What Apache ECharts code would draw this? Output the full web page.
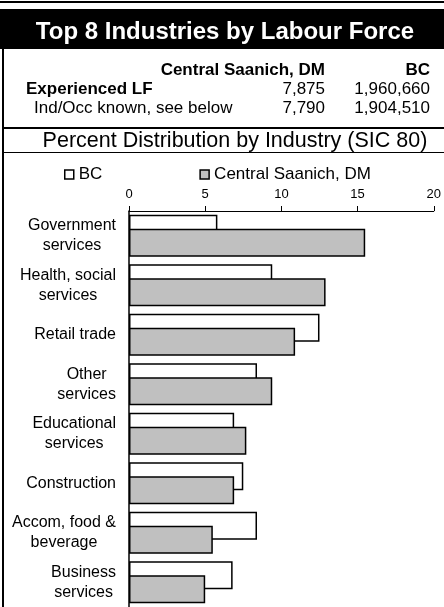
<!DOCTYPE html>
<html>
<head>
<meta charset="utf-8">
<script src="https://cdn.jsdelivr.net/npm/echarts@6/dist/echarts.min.js"></script>
<style>
  html, body { margin: 0; padding: 0; background: #fff; }
  #chart { width: 444px; height: 607px; }
</style>
</head>
<body>
<div id="chart"></div>
<script>
// industries, top to bottom
const categories = [
  'Government\nservices',
  'Health, social\nservices',
  'Retail trade',
  'Other\nservices',
  'Educational\nservices',
  'Construction',
  'Accom, food &\nbeverage',
  'Business\nservices'
];
const bcValues = [5.8, 9.4, 12.5, 8.4, 6.9, 7.5, 8.4, 6.8];
const saanichValues = [15.5, 12.9, 10.9, 9.4, 7.7, 6.9, 5.5, 5.0];

// summary table
const tableHeader = ['Central Saanich, DM', 'BC'];
const experiencedLF = ['Experienced LF', '7,875', '1,960,660'];
const indOccKnown = ['Ind/Occ known, see below', '7,790', '1,904,510'];

const FONT = 'Liberation Sans, Arial, sans-serif';

const chart = echarts.init(document.getElementById('chart'));

function txt(x, y, text, align, bold, size, color) {
  return {
    type: 'text', x: x, y: y, silent: true,
    style: {
      text: text, fill: color || '#000', align: align, verticalAlign: 'middle',
      font: (bold ? 'bold ' : '') + (size || 17) + 'px ' + FONT
    }
  };
}

chart.setOption({
  animation: false,
  backgroundColor: '#fff',
  textStyle: { fontFamily: FONT },
  graphic: [
    { type: 'rect', shape: { x: 0, y: 1, width: 444, height: 2 }, style: { fill: '#000' } },
    { type: 'rect', shape: { x: 0, y: 9, width: 444, height: 40 }, style: { fill: '#000' } },
    txt(225, 32, 'Top 8 Industries by Labour Force', 'center', true, 24, '#fff'),
    { type: 'rect', shape: { x: 2, y: 49, width: 2, height: 558 }, style: { fill: '#000' } },
    txt(325, 70, tableHeader[0], 'right', true),
    txt(430, 70, tableHeader[1], 'right', true),
    txt(26, 89, experiencedLF[0], 'left', true),
    txt(325, 89, experiencedLF[1], 'right'),
    txt(430, 89, experiencedLF[2], 'right'),
    txt(34, 108, indOccKnown[0], 'left'),
    txt(325, 108, indOccKnown[1], 'right'),
    txt(430, 108, indOccKnown[2], 'right'),
    { type: 'rect', shape: { x: 2, y: 127, width: 442, height: 2 }, style: { fill: '#000' } },
    txt(235, 141, 'Percent Distribution by Industry (SIC 80)', 'center', false, 21.5),
    { type: 'rect', shape: { x: 2, y: 152, width: 442, height: 1 }, style: { fill: '#000' } }
  ],
  legend: {
    left: 64,
    top: 166,
    padding: 0,
    itemWidth: 9,
    itemHeight: 9,
    itemGap: 97,
    icon: 'rect',
    textStyle: { fontSize: 17, color: '#000', fontFamily: FONT },
    data: [
      { name: 'BC', itemStyle: { color: '#fff', borderColor: '#000', borderWidth: 1.5 } },
      { name: 'Central Saanich, DM', itemStyle: { color: '#c0c0c0', borderColor: '#000', borderWidth: 1.5 } }
    ]
  },
  grid: { left: 129, right: 9, top: 211, bottom: 0 },
  xAxis: {
    type: 'value',
    position: 'top',
    min: 0,
    max: 20,
    interval: 5,
    axisLine: { show: true, lineStyle: { color: '#000', width: 1 } },
    axisTick: { show: true, length: 5, lineStyle: { color: '#000' } },
    axisLabel: { fontSize: 13, color: '#000', margin: 10, fontFamily: FONT },
    splitLine: { show: false }
  },
  yAxis: {
    type: 'category',
    inverse: true,
    data: categories,
    axisLine: { show: true, lineStyle: { color: '#000', width: 1.5 } },
    axisTick: { show: false },
    axisLabel: {
      margin: 13,
      align: 'right',
      fontFamily: FONT,
      formatter: function (v) {
        return v.split('\n').map(function (l) { return '{c|' + l + '}'; }).join('\n');
      },
      rich: {
        c: { align: 'center', fontSize: 16, lineHeight: 20, color: '#000', fontFamily: FONT }
      }
    }
  },
  series: [
    {
      name: 'BC',
      type: 'bar',
      data: bcValues,
      barWidth: 28,
      barGap: '-50%',
      itemStyle: { color: '#fff', borderColor: '#000', borderWidth: 1.5 }
    },
    {
      name: 'Central Saanich, DM',
      type: 'bar',
      data: saanichValues,
      barWidth: 28,
      barGap: '-50%',
      itemStyle: { color: '#c0c0c0', borderColor: '#000', borderWidth: 1.5 }
    }
  ]
});
</script>
</body>
</html>
